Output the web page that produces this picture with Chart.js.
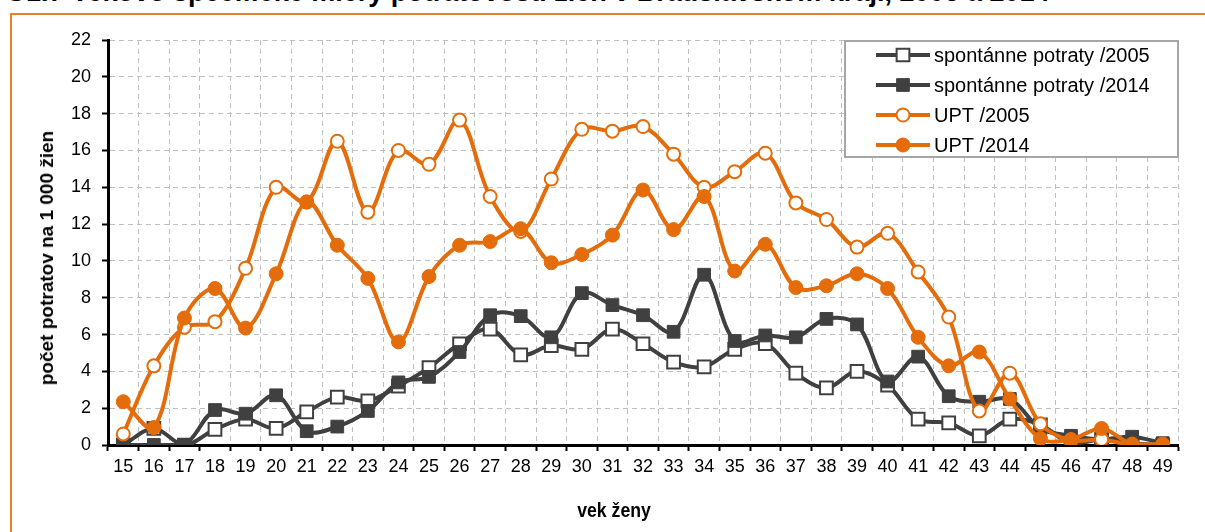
<!DOCTYPE html>
<html>
<head>
<meta charset="utf-8">
<script src="https://cdn.jsdelivr.net/npm/chart.js@4.4.1/dist/chart.umd.min.js"></script>
<style>
  html, body { margin: 0; padding: 0; background: #fff; }
  body { width: 1205px; height: 532px; overflow: hidden; position: relative; }
  #title {
    position: absolute; left: 5px; top: -23px; white-space: nowrap;
    font: bold 27px "Liberation Sans", Arial, sans-serif; color: #000;
  }
  #frame {
    position: absolute; left: 10px; top: 13px; width: 1400px; height: 800px;
    border: 2px solid #e8822a;
  }
  #wrap { position: absolute; left: 0; top: 0; width: 1205px; height: 532px; }
  #ytitle {
    position: absolute; left: 47px; top: 258px; white-space: nowrap;
    transform: translate(-50%, -50%) rotate(-90deg);
    font: bold 19px "Liberation Sans", Arial, sans-serif; color: #000;
  }
  #xtitle {
    position: absolute; left: 614px; top: 510px; white-space: nowrap;
    transform: translate(-50%, -50%) scaleX(0.84);
    font: bold 21px "Liberation Sans", Arial, sans-serif; color: #000;
  }
</style>
</head>
<body>
<div id="title">G1.7 Vekovo špecifické miery potratovosti žien v Bratislavskom kraji, 2005 a 2014</div>
<div id="frame"></div>
<div id="wrap"><canvas id="chart" width="1205" height="532"></canvas></div>
<div id="ytitle">počet potratov na 1 000 žien</div>
<div id="xtitle">vek ženy</div>
<script>
const ages = ['15', '16', '17', '18', '19', '20', '21', '22', '23', '24', '25', '26', '27', '28', '29', '30', '31',
  '32', '33', '34', '35', '36', '37', '38', '39', '40', '41', '42', '43', '44', '45', '46', '47', '48', '49'];

const spont2005 = [0.0, 0.9, 0.0, 0.85, 1.4, 0.9, 1.8, 2.6, 2.4, 3.2, 4.2, 5.5, 6.3, 4.9, 5.4, 5.2, 6.3,
  5.5, 4.5, 4.25, 5.2, 5.5, 3.9, 3.1, 4.0, 3.25, 1.4, 1.2, 0.5, 1.4, 1.1, 0.1, 0.3, 0.1, 0.0];
const spont2014 = [0.0, 0.0, 0.0, 1.9, 1.7, 2.7, 0.75, 1.0, 1.85, 3.4, 3.7, 5.05, 7.05, 7.0, 5.85, 8.25, 7.6,
  7.05, 6.15, 9.25, 5.65, 5.95, 5.85, 6.85, 6.55, 3.45, 4.8, 2.65, 2.35, 2.5, 0.9, 0.5, 0.3, 0.45, 0.1];
const upt2005 = [0.6, 4.3, 6.4, 6.7, 9.6, 14.0, 13.2, 16.5, 12.65, 16.0, 15.25, 17.65, 13.5, 11.6, 14.45, 17.15, 17.05,
  17.3, 15.8, 14.0, 14.85, 15.85, 13.15, 12.25, 10.75, 11.5, 9.4, 6.95, 1.85, 3.9, 1.15, 0.25, 0.3, 0.0, 0.0];
const upt2014 = [2.35, 0.95, 6.9, 8.5, 6.35, 9.3, 13.2, 10.85, 9.05, 5.6, 9.15, 10.85, 11.05, 11.75, 9.9, 10.35, 11.4,
  13.85, 11.7, 13.5, 9.45, 10.9, 8.55, 8.65, 9.3, 8.5, 5.85, 4.3, 5.05, 2.5, 0.35, 0.3, 0.9, 0.05, 0.05];

const seriesNames = ['spontánne potraty /2005', 'spontánne potraty /2014', 'UPT /2005', 'UPT /2014'];

const DARK = '#404040';
const ORANGE = '#e46c0a';
const SANS = '"Liberation Sans", Arial, sans-serif';

function series(label, data, color, style, hollow, radius, order) {
  return {
    label: label,
    data: data,
    borderColor: color,
    borderWidth: 4,
    tension: 0.35,
    pointStyle: style,
    pointRadius: radius,
    pointHoverRadius: radius,
    pointBorderColor: color,
    pointBackgroundColor: hollow ? '#fff' : color,
    pointBorderWidth: hollow ? 2 : 1,
    order: order
  };
}

// legend drawn inside the plot, line + marker like in Excel
const boxLegend = {
  id: 'boxLegend',
  afterDatasetsDraw(chart) {
    const ctx = chart.ctx;
    const x0 = 845, y0 = 41, w = 333, h = 116;
    ctx.save();
    ctx.fillStyle = '#fff';
    ctx.fillRect(x0, y0, w, h);
    ctx.strokeStyle = '#a6a6a6';
    ctx.lineWidth = 2;
    ctx.strokeRect(x0, y0, w, h);
    chart.data.datasets.forEach((ds, i) => {
      const y = 55 + i * 30;
      ctx.beginPath();
      ctx.strokeStyle = ds.borderColor;
      ctx.lineWidth = 4;
      ctx.moveTo(876, y);
      ctx.lineTo(930, y);
      ctx.stroke();
      ctx.fillStyle = ds.pointBackgroundColor;
      ctx.strokeStyle = ds.pointBorderColor;
      ctx.lineWidth = ds.pointBorderWidth;
      Chart.helpers.drawPoint(ctx, {
        pointStyle: ds.pointStyle, radius: ds.pointRadius, rotation: 0, borderWidth: ds.pointBorderWidth
      }, 903, y);
      ctx.fillStyle = '#000';
      ctx.font = '20px ' + SANS;
      ctx.textBaseline = 'middle';
      ctx.textAlign = 'left';
      ctx.fillText(ds.label, 934, y + 1);
    });
    ctx.restore();
  }
};

new Chart(document.getElementById('chart'), {
  type: 'line',
  data: {
    labels: ages,
    datasets: [
      series(seriesNames[0], spont2005, DARK, 'rect', true, 9, 4),
      series(seriesNames[1], spont2014, DARK, 'rect', false, 9, 3),
      series(seriesNames[2], upt2005, ORANGE, 'circle', true, 6.5, 2),
      series(seriesNames[3], upt2014, ORANGE, 'circle', false, 7, 1)
    ]
  },
  options: {
    responsive: false,
    animation: false,
    layout: { padding: { top: 40, right: 27, left: 0, bottom: 0 } },
    plugins: {
      legend: { display: false },
      tooltip: { enabled: false }
    },
    scales: {
      x: {
        offset: true,
        afterFit: (s) => { s.height = 87; },
        grid: {
          offset: true,
          color: '#bfbfbf',
          lineWidth: 1,
          tickLength: 6,
          tickColor: '#000',
          tickWidth: 2,
          tickBorderDash: []
        },
        border: { color: '#000', width: 3, dash: [5, 4] },
        ticks: {
          color: '#000',
          font: { family: SANS, size: 18 },
          padding: 5,
          maxRotation: 0,
          autoSkip: false
        }
      },
      y: {
        min: 0,
        max: 22,
        afterFit: (s) => { s.width = 108; },
        grid: {
          color: '#bfbfbf',
          lineWidth: 1,
          tickLength: 6,
          tickColor: '#000',
          tickWidth: 2,
          tickBorderDash: []
        },
        border: { color: '#000', width: 3, dash: [5, 4] },
        ticks: {
          stepSize: 2,
          color: '#000',
          font: { family: SANS, size: 18 },
          padding: 11
        }
      }
    }
  },
  plugins: [boxLegend]
});
</script>
</body>
</html>
